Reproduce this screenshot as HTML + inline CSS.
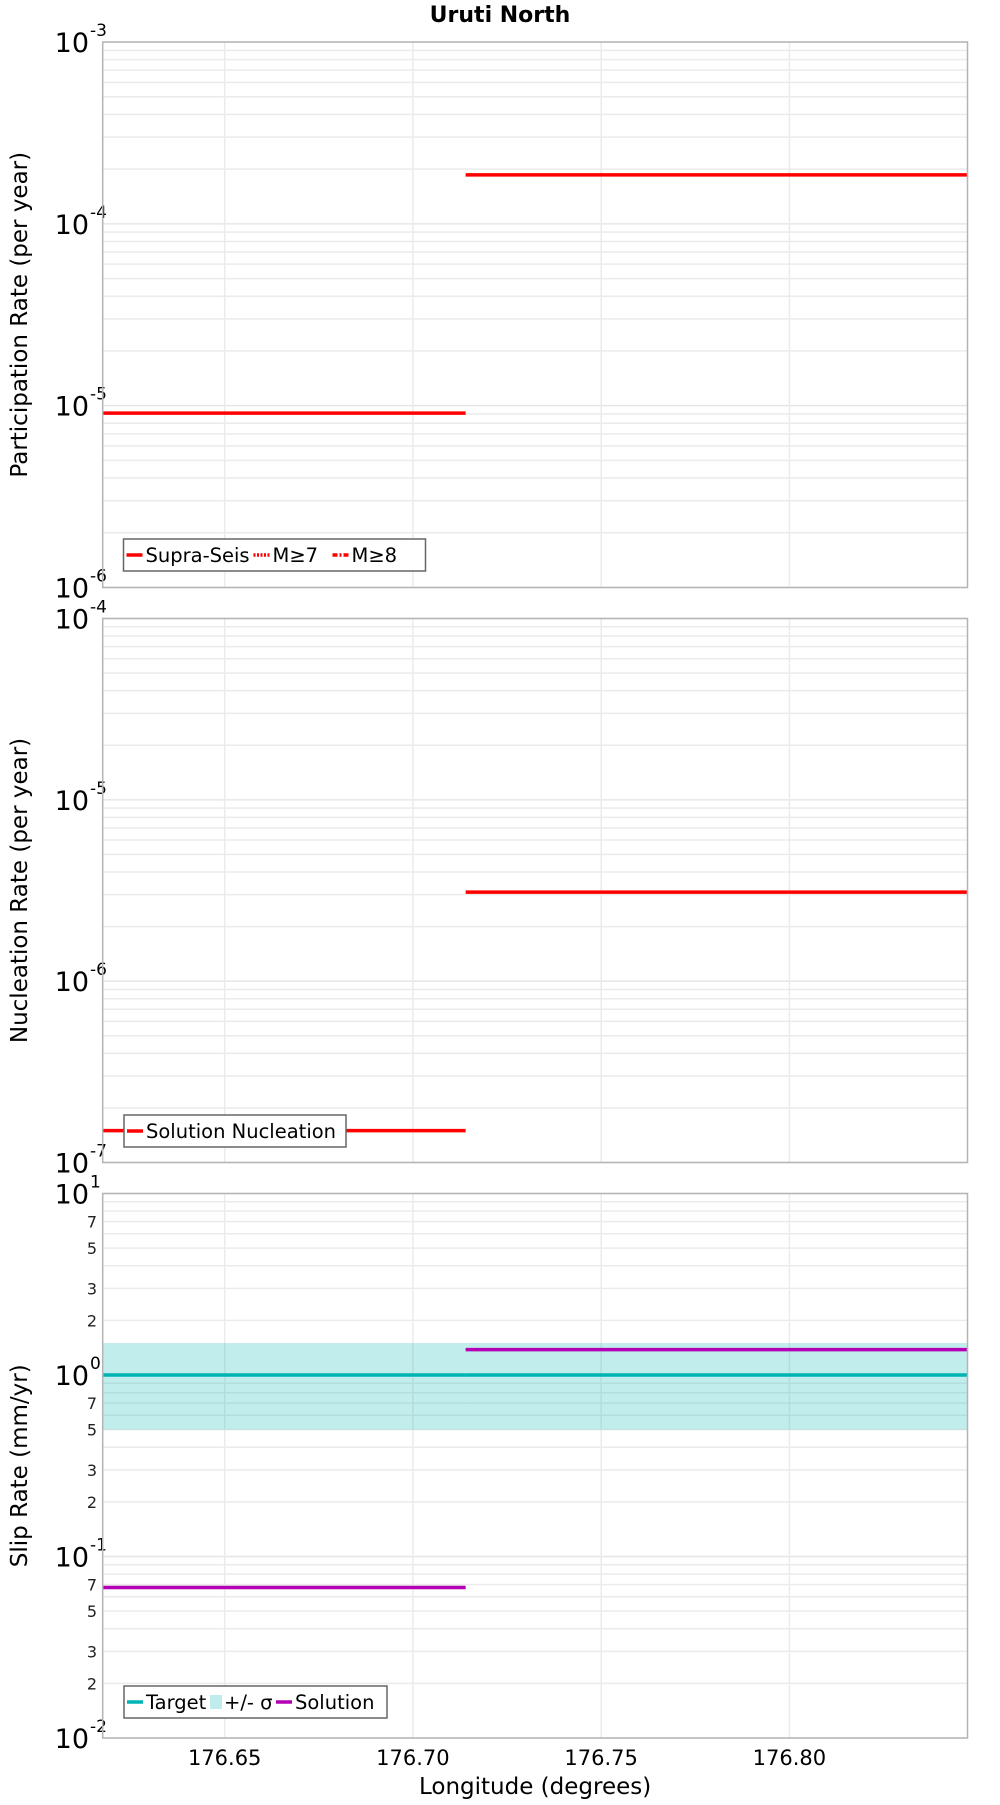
<!DOCTYPE html>
<html><head><meta charset="utf-8"><style>
body{margin:0;background:#fff}
svg text{font-family:"DejaVu Sans","Liberation Sans",sans-serif}
</style></head><body>
<svg id="chart" xmlns="http://www.w3.org/2000/svg" width="1000" height="1800" viewBox="0 0 1000 1800">
<text x="500" y="22" text-anchor="middle" font-size="22" font-weight="bold">Uruti North</text>
<g id="root"></g>
</svg>
<script>
const xDomain=[176.6176,176.8473];
const xTicks=[176.65,176.70,176.75,176.80];
const xTickLabels=["176.65","176.70","176.75","176.80"];
const segStarts=[176.6176,176.714];
const segEnds=[176.714,176.8473];
const partRates=[9.1e-6,1.86e-4];
const nuclRates=[1.5e-7,3.1e-6];
const slipTarget=[1.0,1.0];
const slipLow=[0.5,0.5];
const slipHigh=[1.5,1.5];
const slipSolution=[0.0675,1.38];
const p1Decades=[-6,-3];
const p2Decades=[-7,-4];
const p3Decades=[-2,1];

const NS="http://www.w3.org/2000/svg";
const root=document.getElementById('root');
const L=102.7,R=967.5;
function X(v){return L+(v-xDomain[0])/(xDomain[1]-xDomain[0])*(R-L);}
function mk(tag,attrs,parent){const e=document.createElementNS(NS,tag);for(const k in attrs)e.setAttribute(k,attrs[k]);(parent||root).appendChild(e);return e;}

function panel(name,top,bot,dec,ytitle,minorLabels){
  const g=mk('g',{});
  
  
  const Y=v=>bot-(Math.log10(v)-dec[0])/(dec[1]-dec[0])*(bot-top);
  for(let d=dec[0];d<dec[1];d++){
    for(let m=2;m<=9;m++){
      const y=Y(m*Math.pow(10,d));
      const ln=mk('line',{x1:L,x2:R,y1:y,y2:y,stroke:'#ebebeb','stroke-width':1.5},g);
      
      
      if(minorLabels&&[2,3,5,7].includes(m)){
        const t=mk('text',{x:97,y:y+6,'text-anchor':'end','font-size':16,fill:'#222'},g);
        t.textContent=m;
        
        
      }
    }
  }
  for(let d=dec[0];d<=dec[1];d++){
    const y=Y(Math.pow(10,d));
    const ln=mk('line',{x1:L,x2:R,y1:y,y2:y,stroke:'#e6e6e6','stroke-width':1.5},g);
    
    
    const t=mk('text',{x:89,y:y+10,'text-anchor':'end','font-size':27,fill:'#000'},g);
    t.textContent='10';
    
    
    const s=mk('text',{x:90,y:y-6,'text-anchor':'start','font-size':17,fill:'#000'},g);
    s.textContent=String(d);
    
    
  }
  xTicks.forEach(v=>{
    const ln=mk('line',{x1:X(v),x2:X(v),y1:top,y2:bot,stroke:'#ebebeb','stroke-width':1.5},g);
    
    
  });
  const yt=mk('text',{x:0,y:0,transform:`translate(27,${(top+bot)/2}) rotate(-90)`,'text-anchor':'middle','font-size':23,fill:'#000'},g);
  yt.textContent=ytitle;
  
  
  return {g,Y,top,bot};
}
function frame(p){
  const r=mk('rect',{x:L,y:p.top,width:R-L,height:p.bot-p.top,fill:'none',stroke:'#b4b4b4','stroke-width':1.5},p.g);
  
  
}
function seg(p,vals,color,name){
  vals.forEach((v,i)=>{
    const ln=mk('line',{x1:X(segStarts[i]),x2:X(segEnds[i]),y1:p.Y(v),y2:p.Y(v),stroke:color,'stroke-width':3.5},p.g);
    
    
  });
}
function legend(p,x,y,w,items){
  const g=mk('g',{},p.g);
  
  
  mk('rect',{x:x,y:y,width:w,height:32,fill:'#fff',stroke:'#666','stroke-width':1.5},g);
  let cx=x+3;
  items.forEach(it=>{
    const e=mk('g',{},g);
    
    
    if(it.box){mk('rect',{x:cx+2,y:y+9,width:12,height:14,fill:it.color},e);cx+=16;}
    else{mk('line',{x1:cx,x2:cx+16,y1:y+16,y2:y+16,stroke:it.color,'stroke-width':3.5,'stroke-dasharray':it.dash||'none'},e);cx+=19;}
    const t=mk('text',{x:cx,y:y+23,'font-size':19.5,fill:'#000'},e);
    t.textContent=it.label;
    cx+=it.w;
  });
}

const p1=panel('participation',42,587.5,p1Decades,'Participation Rate (per year)',false);
seg(p1,partRates,'#ff0000','supra-seis');
frame(p1);
legend(p1,123.5,539,302,[{color:'#f00',label:'Supra-Seis',w:108},{color:'#f00',dash:'2,1.5',label:'M≥7',w:60},{color:'#f00',dash:'5,2,2,2',label:'M≥8',w:50}]);

const p2=panel('nucleation',618.5,1162.5,p2Decades,'Nucleation Rate (per year)',false);
seg(p2,nuclRates,'#ff0000','solution-nucleation');
frame(p2);
legend(p2,124,1115,222,[{color:'#f00',label:'Solution Nucleation',w:200}]);

const p3=panel('slip-rate',1193.5,1738,p3Decades,'Slip Rate (mm/yr)',true);
slipLow.forEach((v,i)=>{
  const r=mk('rect',{x:X(segStarts[i]),y:p3.Y(slipHigh[i]),width:X(segEnds[i])-X(segStarts[i]),height:p3.Y(v)-p3.Y(slipHigh[i]),fill:'rgba(0,180,180,0.24)'},p3.g);
  
  
});
seg(p3,slipTarget,'#00b4b4','target');
seg(p3,slipSolution,'#b400b4','solution');
frame(p3);
legend(p3,124,1686,263,[{color:'#00b4b4',label:'Target',w:62},{color:'#c0ecec',box:true,label:'+/- σ',w:52},{color:'#b400b4',label:'Solution',w:80}]);

xTicks.forEach((v,i)=>{
  const t=mk('text',{x:X(v),y:1765,'text-anchor':'middle','font-size':21,fill:'#000'});
  t.textContent=xTickLabels[i];
  
  
});
const xt=mk('text',{x:(L+R)/2,y:1794,'text-anchor':'middle','font-size':23,fill:'#000'});
xt.textContent='Longitude (degrees)';


</script>
</body></html>
